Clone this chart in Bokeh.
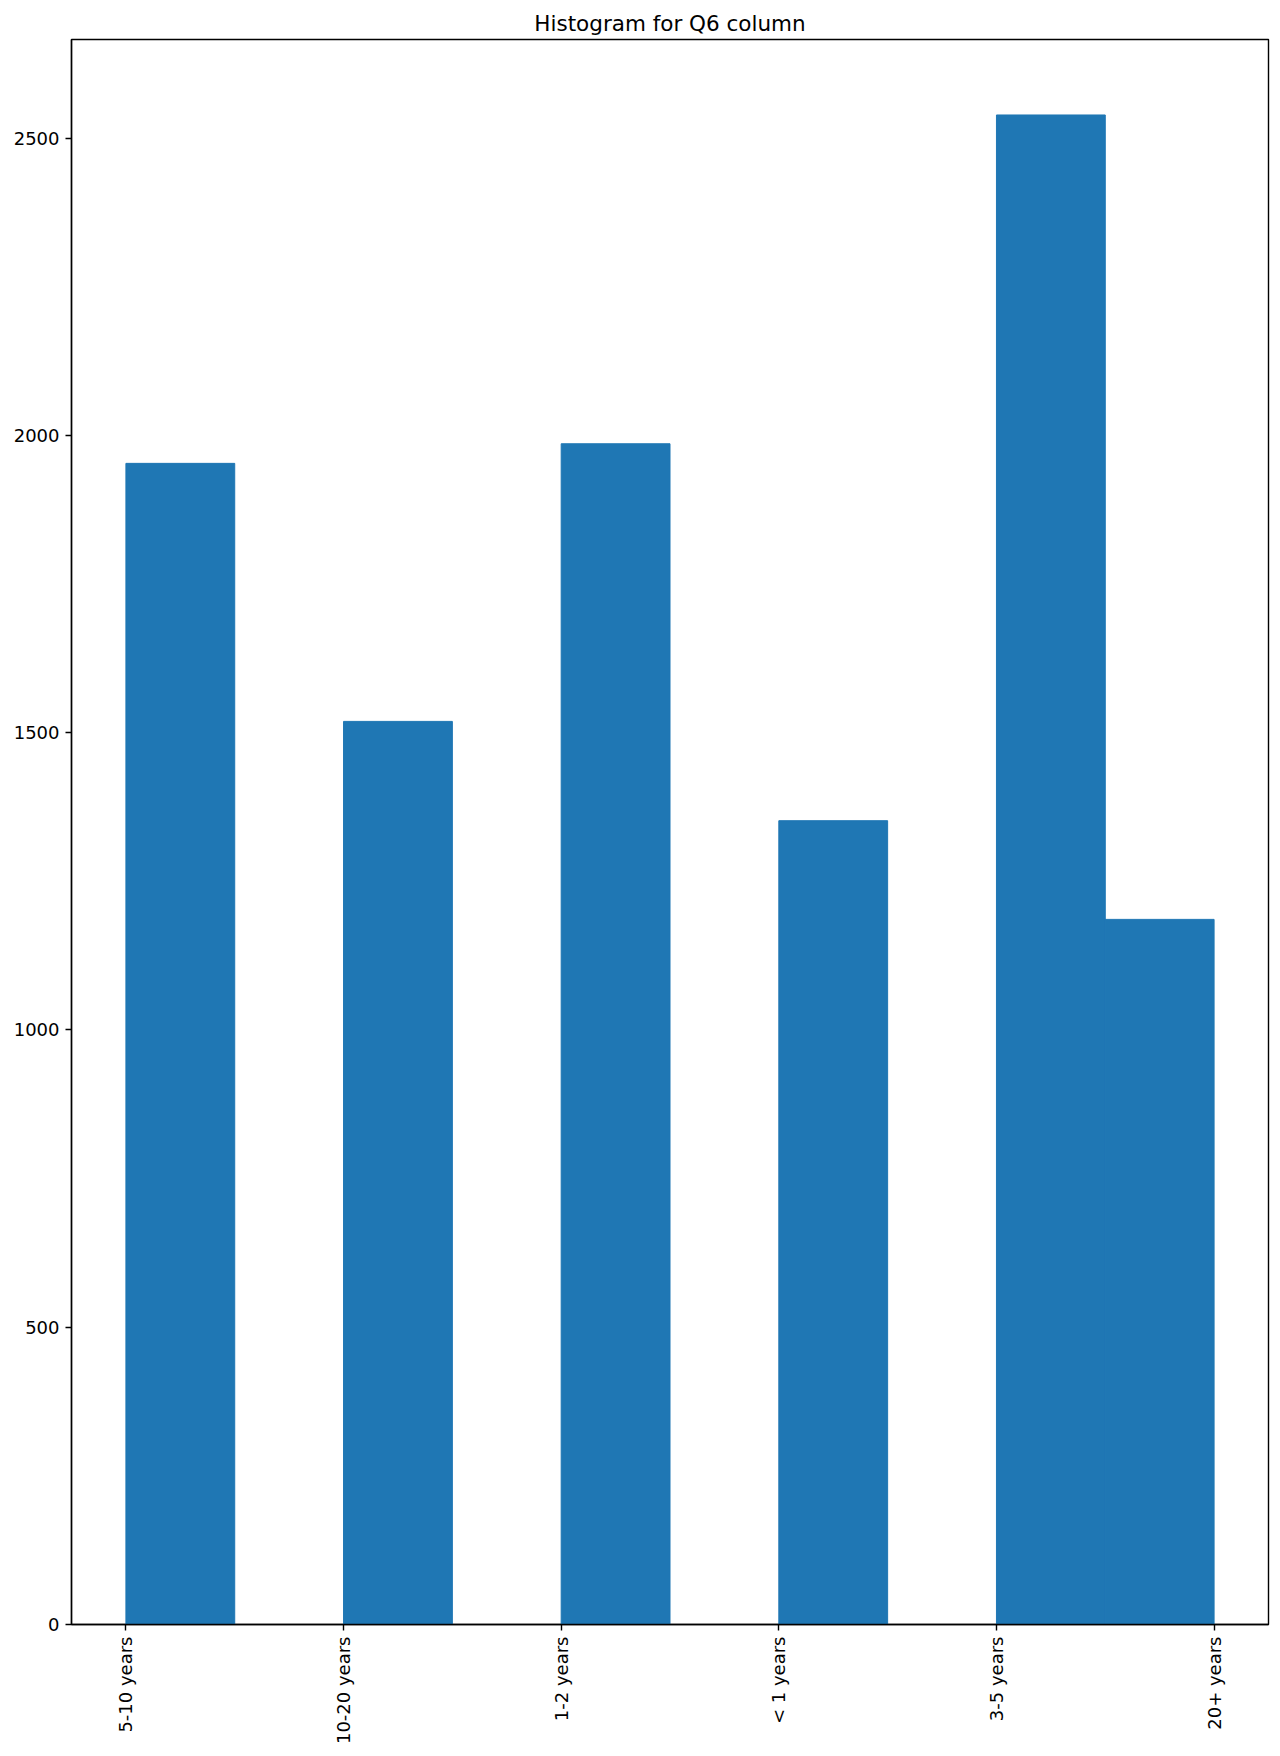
import numpy as np
from bokeh.plotting import figure
from bokeh.models import Range1d, FixedTicker
from bokeh.embed import file_html
from bokeh.resources import INLINE
import math

# Data
categories = ["5-10 years", "10-20 years", "1-2 years", "< 1 years", "3-5 years", "20+ years"]
counts = [1953, 1519, 1986, 1352, 2539, 1186]
n_bins = 10
y_ticks = [0, 500, 1000, 1500, 2000, 2500]

codes = np.arange(len(categories))
hist, edges = np.histogram(codes, bins=n_bins, range=(0, len(categories) - 1), weights=counts)

FONT = "DejaVu Sans"

p = figure(width=1278, height=1752, output_backend="svg", toolbar_location=None,
           title="Histogram for Q6 column",
           x_range=Range1d(-0.25, 5.25), y_range=Range1d(0, max(counts) * 1.05),
           min_border_left=71, min_border_right=10, min_border_top=39, min_border_bottom=128)

p.quad(left=edges[:-1], right=edges[1:], bottom=0, top=hist,
       fill_color="#1f77b4", line_color="#1f77b4", line_width=1)

p.title.align = "center"
p.title.text_font = FONT
p.title.text_font_size = "21.5px"
p.title.text_font_style = "normal"
p.title.text_color = "black"
p.title.standoff = 7

p.xgrid.visible = False
p.ygrid.visible = False
p.outline_line_color = "black"
p.outline_line_width = 1.4
p.background_fill_color = "white"
p.border_fill_color = "white"

for ax in (p.xaxis[0], p.yaxis[0]):
    ax.axis_line_color = "black"
    ax.axis_line_width = 1.4
    ax.major_tick_line_color = "black"
    ax.major_tick_line_width = 1.4
    ax.major_tick_out = 6
    ax.major_tick_in = 0
    ax.minor_tick_line_color = None
    ax.major_label_text_font = FONT
    ax.major_label_text_font_size = "18px"
    ax.major_label_text_color = "black"
    ax.major_label_standoff = 6

p.xaxis[0].ticker = FixedTicker(ticks=list(range(len(categories))))
p.xaxis[0].major_label_overrides = {i: c for i, c in enumerate(categories)}
p.xaxis[0].major_label_orientation = math.pi / 2
p.yaxis[0].ticker = FixedTicker(ticks=y_ticks)

open("out.html", "w").write(file_html(p, INLINE))
